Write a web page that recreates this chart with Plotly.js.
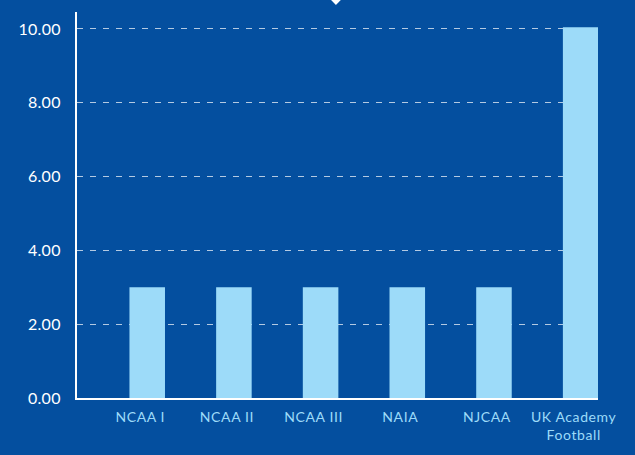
<!DOCTYPE html>
<html><head><meta charset="utf-8">
<script src="https://cdn.plot.ly/plotly-3.0.1.min.js"></script>
<style>html,body{margin:0;padding:0;background:#044f9f;}
.xtick text{letter-spacing:0.6px;}
.ytick text{letter-spacing:0.3px;}
</style>
</head><body>
<div id="chart" style="width:635px;height:455px;"></div>
<script>
const categories = ["NCAA I", "NCAA II", "NCAA III", "NAIA", "NJCAA", "UK Academy<br>Football"];
const values = [3, 3, 3, 3, 3, 10.05];
const yTicks = [0, 2, 4, 6, 8, 10];
const yTickLabels = ["0.00", "2.00", "4.00", "6.00", "8.00", "10.00"];

const bg = "#044f9f";
const barColor = "#9ddbf9";
const fam = "Lato, 'Open Sans', sans-serif";

Plotly.newPlot("chart", [{
  type: "bar",
  x: [0,1,2,3,4,5],
  y: values,
  width: 0.41,
  marker: {color: barColor, line: {width: 0}},
  hoverinfo: "none"
}], {
  width: 635, height: 455,
  paper_bgcolor: bg, plot_bgcolor: bg,
  margin: {l: 77, r: 37, t: 12, b: 57},
  showlegend: false,
  font: {family: fam, color: "#ffffff"},
  xaxis: {
    range: [-0.81, 5.2],
    tickvals: [0,1,2,3,4,5],
    ticktext: categories,
    ticklabelshift: -7,
    showgrid: false, zeroline: false,
    showline: true, linecolor: "#ffffff", linewidth: 2,
    ticks: "outside", ticklen: 5, tickcolor: bg,
    tickfont: {size: 14, color: barColor, family: fam},
    fixedrange: true
  },
  yaxis: {
    range: [0, 10.46],
    tickvals: yTicks,
    ticktext: yTickLabels,
    showgrid: true, gridcolor: "rgba(255,255,255,0.7)", griddash: "6px,7px", gridwidth: 1,
    zeroline: false,
    showline: true, linecolor: "#ffffff", linewidth: 2,
    ticks: "outside", ticklen: 11, tickcolor: bg,
    tickfont: {size: 16, color: "#ffffff", family: fam},
    fixedrange: true
  },
  shapes: [{
    type: "path", xref: "paper", yref: "paper",
    path: "M 0.487 1.032 L 0.497 1.018 L 0.507 1.032 Z",
    fillcolor: "#ffffff", line: {width: 0}
  }]
}, {displayModeBar: false, staticPlot: true});
</script>
</body></html>
